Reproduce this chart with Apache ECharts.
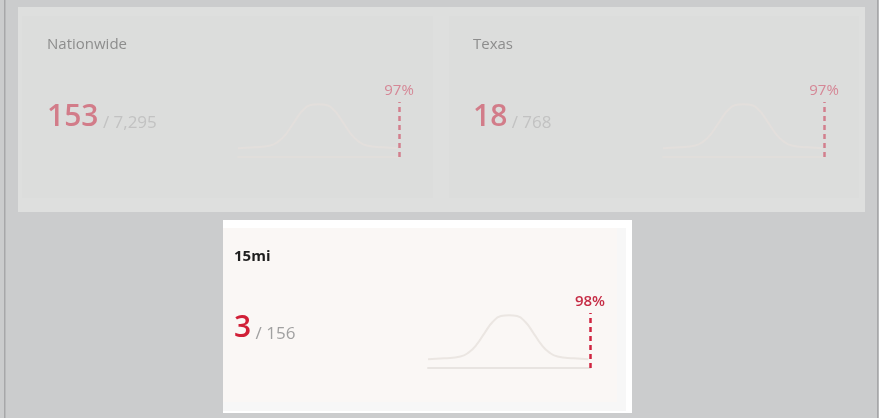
<!DOCTYPE html>
<html>
<head>
<meta charset="utf-8">
<script src="https://cdn.jsdelivr.net/npm/echarts@6/dist/echarts.min.js"></script>
<style>
    html, body { margin: 0; padding: 0; background: #cbcccd; }
    #chart { width: 879px; height: 418px; }
</style>
</head>
<body>
<div id="chart"></div>
<script>
// card data
const cardNames = ['Nationwide', 'Texas', '15mi'];
const counts = [153, 18, 3];
const totals = [7295, 768, 156];
const percentiles = [97, 97, 98];

// distribution curve (x = position 0..100, y = relative height)
const curveX = [0, 10, 20, 25, 30, 35, 40, 45, 50, 55, 60, 65, 70, 75, 80, 90, 99];
const curveY = [0, 0.02, 0.06, 0.15, 0.33, 0.6, 0.85, 0.98, 1, 0.98, 0.85, 0.6, 0.33, 0.15, 0.06, 0.02, 0];

// the two top cards sit under a grey overlay, the bottom one is active
const themes = [
    { title: '#8d8d8d', titleWeight: 'normal', count: '#d27c89', total: '#c2c2c2', pct: '#d58796', dash: '#d27f8d', curve: '#e3dfdc', base: '#e1dedb' },
    { title: '#8d8d8d', titleWeight: 'normal', count: '#d27c89', total: '#c2c2c2', pct: '#d58796', dash: '#d27f8d', curve: '#e3dfdc', base: '#e1dedb' },
    { title: '#1e1e1e', titleWeight: 'bold', count: '#d11f37', total: '#a0a0a0', pct: '#c62c45', dash: '#cf2540', curve: '#ebe6e2', base: '#e8e4e1' }
];
// layout of each card: text origin and chart box
const layouts = [
    { tx: 47, ty: 45, ny: 117, left: 238, top: 102, width: 161, height: 55 },
    { tx: 473, ty: 45, ny: 117, left: 663, top: 102, width: 161, height: 55 },
    { tx: 234, ty: 257, ny: 328, left: 428, top: 313, width: 162, height: 55 }
];

const chart = echarts.init(document.getElementById('chart'));
const font = '"Open Sans", "Noto Sans", sans-serif';

const grids = [], xAxes = [], yAxes = [], series = [];
const textEls = [];
cardNames.forEach((name, i) => {
    const lay = layouts[i];
    const th = themes[i];
    grids.push({ left: lay.left, top: lay.top, width: lay.width, height: lay.height, containLabel: false });
    xAxes.push({
        type: 'value', gridIndex: i, min: 0, max: 100,
        axisLine: { show: true, onZero: false, lineStyle: { color: th.base, width: 2 } },
        axisTick: { show: false }, axisLabel: { show: false }, splitLine: { show: false }
    });
    yAxes.push({ type: 'value', gridIndex: i, min: -0.2, max: 1.05, show: false });
    series.push({
        type: 'line', xAxisIndex: i, yAxisIndex: i, smooth: true, symbol: 'none', silent: true,
        lineStyle: { color: th.curve, width: 2 },
        data: curveX.map((x, k) => [x, curveY[k]]),
        markLine: {
            silent: true, symbol: 'none',
            lineStyle: { color: th.dash, width: 2.5, type: [5, 4] },
            label: {
                position: 'end', distance: 4, formatter: percentiles[i] + '%',
                color: th.pct, fontSize: 15, fontFamily: font, fontWeight: th.titleWeight === 'bold' ? 600 : 'normal'
            },
            data: [{ xAxis: 100 }]
        }
    });
    textEls.push({
        type: 'text', x: lay.tx, y: lay.ty, z: 10, silent: true,
        style: { text: name, fill: th.title, font: th.titleWeight + ' 15px ' + font, verticalAlign: 'middle' }
    });
    textEls.push({
        type: 'text', x: lay.tx, y: lay.ny, z: 10, silent: true,
        style: {
            text: '{a|' + counts[i] + '}{b| / ' + totals[i].toLocaleString('en-US') + '}',
            verticalAlign: 'middle',
            rich: {
                a: { fill: th.count, fontSize: 30, fontWeight: 600, fontFamily: font, lineHeight: 30, verticalAlign: 'bottom' },
                b: { fill: th.total, fontSize: 17, fontFamily: font, lineHeight: 22, verticalAlign: 'bottom' }
            }
        }
    });
});

const panels = [
    // page frame
    { type: 'rect', shape: { x: 4, y: 0, width: 1.5, height: 418 }, style: { fill: '#a7a7a9' } },
    { type: 'rect', shape: { x: 877, y: 0, width: 1.5, height: 418 }, style: { fill: '#a7a7a9' } },
    // top panel under overlay
    { type: 'rect', shape: { x: 18, y: 7, width: 847, height: 205 }, style: { fill: '#dedfde' } },
    { type: 'rect', shape: { x: 22, y: 16, width: 411, height: 182 }, style: { fill: '#dcdddc' } },
    { type: 'rect', shape: { x: 449, y: 16, width: 410, height: 182 }, style: { fill: '#dcdddc' } },
    // active panel
    { type: 'rect', shape: { x: 223, y: 220, width: 409, height: 193 }, style: { fill: '#ffffff' } },
    { type: 'rect', shape: { x: 223, y: 228, width: 403, height: 183 }, style: { fill: '#f7f7f7' } },
    { type: 'rect', shape: { x: 223, y: 228, width: 394, height: 174 }, style: { fill: '#faf7f5' } }
];

chart.setOption({
    backgroundColor: '#cbcccd',
    animation: false,
    grid: grids,
    xAxis: xAxes,
    yAxis: yAxes,
    series: series,
    graphic: { elements: panels.map(p => Object.assign({ z: 0, silent: true }, p)).concat(textEls) }
});
</script>
</body>
</html>
